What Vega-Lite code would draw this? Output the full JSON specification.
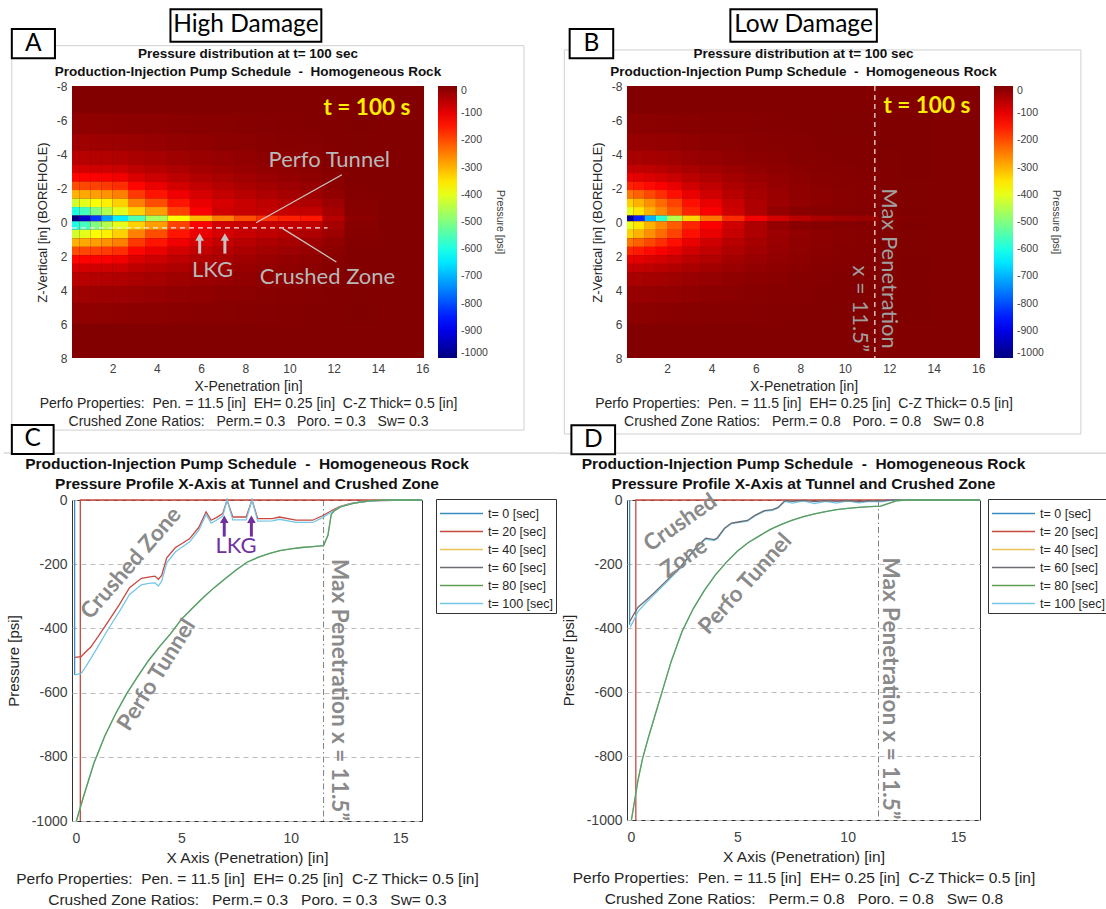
{
"$schema": "https://vega.github.io/schema/vega-lite/v6.json",
"autosize": {"type": "none"},
"padding": {"left": 72, "top": 86, "right": 1034, "bottom": 823},
"background": "white",
"bounds": "flush",
"columns": 2,
"spacing": {"row": 142, "column": 203},
"resolve": {"scale": {"color": "independent", "x": "independent", "y": "independent"}, "legend": {"color": "independent"}, "axis": {"x": "independent", "y": "independent"}},
"config": {
  "font": "Liberation Sans",
  "view": {"stroke": null},
  "axis": {"labelFont": "Liberation Sans", "titleFont": "Liberation Sans", "labelColor": "#404040", "titleColor": "#262626", "titleFontWeight": "normal"},
  "legend": {"labelFont": "Liberation Sans", "titleFont": "Liberation Sans"}
},
"datasets": {
  "rowsH": [
    {"z": -6.4, "z2": -5.2, "b": 9}, {"z": -5.2, "z2": -4.2, "b": 8}, {"z": -4.2, "z2": -3.38, "b": 7},
    {"z": -3.38, "z2": -2.88, "b": 6}, {"z": -2.88, "z2": -2.38, "b": 5}, {"z": -2.38, "z2": -1.88, "b": 4},
    {"z": -1.88, "z2": -1.38, "b": 3}, {"z": -1.38, "z2": -0.88, "b": 2}, {"z": -0.88, "z2": -0.38, "b": 1},
    {"z": -0.38, "z2": -0.04, "b": 0},
    {"z": -0.04, "z2": 0.46, "b": 1}, {"z": 0.46, "z2": 0.96, "b": 2}, {"z": 0.96, "z2": 1.46, "b": 3},
    {"z": 1.46, "z2": 1.96, "b": 4}, {"z": 1.96, "z2": 2.46, "b": 5}, {"z": 2.46, "z2": 2.96, "b": 6},
    {"z": 2.96, "z2": 3.78, "b": 7}, {"z": 3.78, "z2": 4.78, "b": 8}, {"z": 4.78, "z2": 5.98, "b": 9}
  ],
  "colsH": [
    {"k": "c0", "x": 0.17, "x2": 0.5}, {"k": "c1", "x": 0.5, "x2": 1}, {"k": "c2", "x": 1, "x2": 1.5},
    {"k": "c3", "x": 1.5, "x2": 2}, {"k": "c4", "x": 2, "x2": 2.7}, {"k": "c5", "x": 2.7, "x2": 3.5},
    {"k": "c6", "x": 3.5, "x2": 4.5}, {"k": "c7", "x": 4.5, "x2": 5.5}, {"k": "c8", "x": 5.5, "x2": 6.5},
    {"k": "c9", "x": 6.5, "x2": 7.5}, {"k": "c10", "x": 7.5, "x2": 8.5}, {"k": "c11", "x": 8.5, "x2": 9.5},
    {"k": "c12", "x": 9.5, "x2": 10.5}, {"k": "c13", "x": 10.5, "x2": 11.5}, {"k": "c14", "x": 11.5, "x2": 12.5},
    {"k": "c15", "x": 12.5, "x2": 14}
  ],
  "bandsA": [
    {"b":0,"c0":-1000,"c1":-930,"c2":-820,"c3":-720,"c4":-640,"c5":-550,"c6":-460,"c7":-375,"c8":-305,"c9":-250,"c10":-200,"c11":-172,"c12":-156,"c13":-146,"c14":-55,"c15":-12},
    {"b":1,"c0":-600,"c1":-560,"c2":-500,"c3":-450,"c4":-400,"c5":-330,"c6":-280,"c7":-190,"c8":-120,"c9":-80,"c10":-70,"c11":-68,"c12":-68,"c13":-66,"c14":-38,"c15":-8},
    {"b":2,"c0":-420,"c1":-400,"c2":-380,"c3":-360,"c4":-330,"c5":-250,"c6":-200,"c7":-145,"c8":-105,"c9":-85,"c10":-72,"c11":-62,"c12":-52,"c13":-45,"c14":-28,"c15":-6},
    {"b":3,"c0":-300,"c1":-290,"c2":-280,"c3":-268,"c4":-250,"c5":-180,"c6":-145,"c7":-110,"c8":-85,"c9":-68,"c10":-55,"c11":-45,"c12":-38,"c13":-30,"c14":-18,"c15":-4},
    {"b":4,"c0":-200,"c1":-195,"c2":-190,"c3":-182,"c4":-170,"c5":-130,"c6":-105,"c7":-82,"c8":-64,"c9":-52,"c10":-42,"c11":-34,"c12":-28,"c13":-22,"c14":-12,"c15":-3},
    {"b":5,"c0":-130,"c1":-127,"c2":-124,"c3":-120,"c4":-112,"c5":-90,"c6":-75,"c7":-60,"c8":-48,"c9":-40,"c10":-32,"c11":-26,"c12":-20,"c13":-15,"c14":-8,"c15":-2},
    {"b":6,"c0":-85,"c1":-83,"c2":-80,"c3":-78,"c4":-74,"c5":-62,"c6":-53,"c7":-44,"c8":-36,"c9":-30,"c10":-24,"c11":-19,"c12":-15,"c13":-11,"c14":-6,"c15":-2},
    {"b":7,"c0":-55,"c1":-54,"c2":-52,"c3":-50,"c4":-48,"c5":-42,"c6":-37,"c7":-31,"c8":-26,"c9":-22,"c10":-18,"c11":-14,"c12":-11,"c13":-8,"c14":-4,"c15":-1},
    {"b":8,"c0":-32,"c1":-31,"c2":-30,"c3":-29,"c4":-28,"c5":-25,"c6":-22,"c7":-19,"c8":-16,"c9":-13,"c10":-11,"c11":-9,"c12":-7,"c13":-5,"c14":-3,"c15":-1},
    {"b":9,"c0":-16,"c1":-16,"c2":-15,"c3":-15,"c4":-14,"c5":-13,"c6":-12,"c7":-10,"c8":-9,"c9":-8,"c10":-6,"c11":-5,"c12":-4,"c13":-3,"c14":-2,"c15":0}
  ],
  "bandsB": [
    {"b":0,"c0":-960,"c1":-840,"c2":-700,"c3":-580,"c4":-450,"c5":-335,"c6":-240,"c7":-165,"c8":-115,"c9":-82,"c10":-58,"c11":-42,"c12":-32,"c13":-26,"c14":-10,"c15":-2},
    {"b":1,"c0":-400,"c1":-350,"c2":-300,"c3":-260,"c4":-215,"c5":-160,"c6":-122,"c7":-78,"c8":-45,"c9":-20,"c10":-10,"c11":-7,"c12":-5,"c13":-4,"c14":-2,"c15":0},
    {"b":2,"c0":-330,"c1":-300,"c2":-265,"c3":-230,"c4":-190,"c5":-140,"c6":-105,"c7":-70,"c8":-45,"c9":-28,"c10":-18,"c11":-12,"c12":-9,"c13":-7,"c14":-3,"c15":-1},
    {"b":3,"c0":-240,"c1":-220,"c2":-195,"c3":-170,"c4":-140,"c5":-105,"c6":-80,"c7":-56,"c8":-38,"c9":-26,"c10":-17,"c11":-12,"c12":-8,"c13":-6,"c14":-3,"c15":-1},
    {"b":4,"c0":-160,"c1":-148,"c2":-135,"c3":-120,"c4":-102,"c5":-80,"c6":-63,"c7":-46,"c8":-33,"c9":-23,"c10":-15,"c11":-10,"c12":-7,"c13":-5,"c14":-2,"c15":-1},
    {"b":5,"c0":-105,"c1":-98,"c2":-90,"c3":-82,"c4":-72,"c5":-58,"c6":-47,"c7":-36,"c8":-26,"c9":-18,"c10":-12,"c11":-8,"c12":-6,"c13":-4,"c14":-2,"c15":0},
    {"b":6,"c0":-68,"c1":-64,"c2":-60,"c3":-55,"c4":-48,"c5":-40,"c6":-33,"c7":-26,"c8":-19,"c9":-14,"c10":-10,"c11":-7,"c12":-5,"c13":-3,"c14":-1,"c15":0},
    {"b":7,"c0":-42,"c1":-40,"c2":-38,"c3":-35,"c4":-31,"c5":-26,"c6":-22,"c7":-17,"c8":-13,"c9":-10,"c10":-7,"c11":-5,"c12":-3,"c13":-2,"c14":-1,"c15":0},
    {"b":8,"c0":-24,"c1":-23,"c2":-22,"c3":-20,"c4":-18,"c5":-16,"c6":-13,"c7":-11,"c8":-9,"c9":-7,"c10":-5,"c11":-3,"c12":-2,"c13":-1,"c14":0,"c15":0},
    {"b":9,"c0":-12,"c1":-12,"c2":-11,"c3":-10,"c4":-9,"c5":-8,"c6":-7,"c7":-6,"c8":-5,"c9":-4,"c10":-3,"c11":-2,"c12":-1,"c13":-1,"c14":0,"c15":0}
  ],
  "linesC": [
    {"t": "t= 0 [sec]", "g": "v", "x": [0.12, 0.12], "p": [0, -545]},
    {"t": "t= 20 [sec]", "g": "r", "x": [0.38, 0.38, 16], "p": [-1000, 0, 0]},
    {"t": "t= 20 [sec]", "g": "cz", "x": [0.14,0.42,0.6,0.85,1.2,1.63,2.17,2.63,3.17,3.5,3.79,3.95,4.1,4.33,4.72,4.92,5.37,5.8,6.13,6.36,6.6,6.89,7.09,7.35,7.96,8.23,8.49,9.17,9.48,10.24,11.0,11.45,11.9,12.2,12.7,13.3,14,15.4,16], "p": [-490,-488,-475,-459,-425,-381,-325,-273,-244,-240,-237,-247,-235,-180,-149,-140,-121,-85,-37,-63,-55,-42,0,-53,-53,0,-58,-58,-53,-63,-63,-49,-32,-21,-11,-5,-2,0,0]},
    {"t": "t= 100 [sec]", "g": "cz", "x": [0.14,0.42,0.6,0.85,1.2,1.63,2.17,2.63,3.17,3.5,3.79,3.95,4.1,4.33,4.72,4.92,5.37,5.8,6.13,6.36,6.6,6.89,7.09,7.35,7.96,8.23,8.49,9.17,9.48,10.24,11.0,11.45,11.9,12.2,12.7,13.3,14,15.4,16], "p": [-545,-540,-522,-495,-455,-405,-347,-294,-264,-260,-258,-268,-253,-196,-162,-152,-131,-94,-45,-72,-63,-50,0,-62,-62,0,-66,-65,-60,-70,-70,-55,-36,-23,-12,-5,-2,0,0]},
    {"t": "t= 100 [sec]", "g": "tu", "x": [0.2,0.5,1,1.5,2,2.5,3,3.5,4,4.5,5,5.5,6,6.5,7,7.5,8,8.5,9,9.5,10,10.5,11,11.5,11.7,11.85,12,12.3,12.9,13.7,14.6,16], "p": [-1000,-930,-820,-735,-665,-603,-550,-500,-457,-417,-372,-337,-304,-273,-245,-218,-194,-179,-167,-158,-152,-148,-145,-142,-110,-45,-33,-21,-10,-2,0,0]},
    {"t": "t= 80 [sec]", "g": "tu", "x": [0.2,0.5,1,1.5,2,2.5,3,3.5,4,4.5,5,5.5,6,6.5,7,7.5,8,8.5,9,9.5,10,10.5,11,11.5,11.7,11.85,12,12.3,12.9,13.7,14.6,16], "p": [-1000,-930,-820,-735,-665,-603,-550,-500,-457,-417,-372,-337,-304,-273,-245,-218,-194,-179,-167,-158,-152,-148,-145,-142,-110,-45,-33,-21,-10,-2,0,0]}
  ],
  "linesD": [
    {"t": "t= 0 [sec]", "g": "v", "x": [0.12, 0.12], "p": [0, -390]},
    {"t": "t= 20 [sec]", "g": "r", "x": [0.4, 0.4, 16], "p": [-1000, 0, 0]},
    {"t": "t= 100 [sec]", "g": "cz", "x": [0.14,0.35,0.5,0.85,1.2,1.63,2.0,2.4,2.8,3.18,3.57,3.95,4.1,4.42,4.73,5.1,5.46,5.8,6.23,6.6,6.85,7.16,7.5,8,8.5,9,9.5,10,10.5,11,11.5,12,16], "p": [-398,-370,-348,-322,-298,-268,-242,-214,-179,-147,-122,-127,-120,-90,-74,-70,-66,-50,-35,-32,-25,-4,-10,-3,-11,-4,-10,-3,-9,-4,-6,0,0]},
    {"t": "t= 60 [sec]", "g": "cz", "x": [0.14,0.35,0.5,0.85,1.2,1.63,2.0,2.4,2.8,3.18,3.57,3.95,4.1,4.42,4.73,5.1,5.46,5.8,6.23,6.6,6.85,7.16,7.5,8,8.5,9,9.5,10,10.5,11,11.5,12,16], "p": [-378,-352,-335,-314,-292,-263,-238,-211,-176,-144,-119,-124,-118,-88,-72,-68,-64,-48,-33,-30,-23,-2,-4,-1,-5,-2,-4,-2,-5,-3,-3,0,0]},
    {"t": "t= 100 [sec]", "g": "tu", "x": [0.2,0.5,0.7,1,1.5,2,2.5,3,3.5,4,4.5,5,5.5,6,6.5,7,7.5,8,8.5,9,9.5,10,10.5,11,11.5,11.8,12.2,12.6,16], "p": [-1000,-875,-810,-735,-620,-505,-410,-340,-283,-235,-195,-160,-133,-112,-92,-76,-63,-52,-43,-36,-30,-26,-23,-21,-19,-12,-3,0,0]},
    {"t": "t= 80 [sec]", "g": "tu", "x": [0.2,0.5,0.7,1,1.5,2,2.5,3,3.5,4,4.5,5,5.5,6,6.5,7,7.5,8,8.5,9,9.5,10,10.5,11,11.5,11.8,12.2,12.6,16], "p": [-1000,-875,-810,-735,-620,-505,-410,-340,-283,-235,-195,-160,-133,-112,-92,-76,-63,-52,-43,-36,-30,-26,-23,-21,-19,-12,-3,0,0]}
  ]
},
"concat": [
  {
    "width": 352, "height": 272,
    "encoding": {
      "x": {"field": "x", "type": "quantitative", "scale": {"domain": [0.17, 16.08], "nice": false, "zero": false},
        "axis": {"values": [2,4,6,8,10,12,14,16], "ticks": false, "domain": false, "grid": false, "labelFontSize": 12, "labelPadding": 5, "titleFontSize": 14, "titleLineHeight": 17.5, "titlePadding": 5,
          "title": ["X-Penetration [in]", "Perfo Properties:\u00a0 Pen. = 11.5 [in]\u00a0 EH= 0.25 [in]\u00a0 C-Z Thick= 0.5 [in]", "Crushed Zone Ratios:\u00a0 \u00a0Perm.= 0.3\u00a0 \u00a0Poro. = 0.3\u00a0 \u00a0Sw= 0.3"]}},
      "y": {"field": "z", "type": "quantitative", "scale": {"domain": [-8, 8], "reverse": true, "nice": false, "zero": false},
        "axis": {"values": [-8,-6,-4,-2,0,2,4,6,8], "labelExpr": "'' + datum.value", "ticks": false, "domain": false, "grid": false, "labelFontSize": 12, "labelPadding": 5, "title": "Z-Vertical [in] (BOREHOLE)", "titleFontSize": 13, "titlePadding": 7}}
    },
    "layer": [
      {"data": {"values": [{"x": -2.55, "x2": 20.6, "z": -10.37, "z2": 12.24}]}, "mark": {"type": "rect", "fillOpacity": 0, "stroke": "#d0d0d0", "strokeWidth": 1}, "encoding": {"x2": {"field": "x2"}, "y2": {"field": "z2"}}},
      {"data": {"values": [{"x": 0.17, "x2": 16.08, "z": -8, "z2": 8}]}, "mark": {"type": "rect", "color": "#830000"}, "encoding": {"x2": {"field": "x2"}, "y2": {"field": "z2"}}},
      {"data": {"name": "rowsH"},
       "transform": [
         {"lookup": "b", "from": {"data": {"name": "bandsA"}, "key": "b", "fields": ["c0","c1","c2","c3","c4","c5","c6","c7","c8","c9","c10","c11","c12","c13","c14","c15"]}},
         {"fold": ["c0","c1","c2","c3","c4","c5","c6","c7","c8","c9","c10","c11","c12","c13","c14","c15"], "as": ["k", "p"]},
         {"lookup": "k", "from": {"data": {"name": "colsH"}, "key": "k", "fields": ["x", "x2"]}}
       ],
       "mark": {"type": "rect", "clip": true},
       "encoding": {"x2": {"field": "x2"}, "y2": {"field": "z2"},
         "color": {"field": "p", "type": "quantitative",
           "scale": {"domain": [-1000, -875, -625, -375, -125, 0], "range": ["#000080", "#0000ff", "#00ffff", "#ffff00", "#ff0000", "#800000"], "interpolate": "rgb"},
           "legend": {"orient": "none", "legendX": 366, "legendY": 0, "direction": "vertical", "gradientLength": 272, "gradientThickness": 19, "values": [0,-100,-200,-300,-400,-500,-600,-700,-800,-900,-1000], "labelExpr": "'' + datum.value", "labelFontSize": 10.5, "labelColor": "#404040", "labelOffset": 4, "title": "Pressure [psi]", "titleOrient": "right", "titleAnchor": "middle", "titleAngle": 270, "titleFontSize": 10.5, "titleFontWeight": "normal", "titleColor": "#404040", "titlePadding": 7}}}},
      {"data": {"values": [{"x": 0.17, "z": 0.34, "x2": 11.72, "z2": 0.34}]}, "mark": {"type": "rule", "color": "#e8e8e8", "strokeWidth": 1.2, "strokeDash": [5, 4]}, "encoding": {"x2": {"field": "x2"}, "y2": {"field": "z2"}}},
      {"data": {"values": [{"x": 12.37, "z": -2.78, "x2": 8.49, "z2": 0.04}, {"x": 9.7, "z": 0.39, "x2": 12.12, "z2": 2.35}]}, "mark": {"type": "rule", "color": "#c8c8c8", "strokeWidth": 1.2}, "encoding": {"x2": {"field": "x2"}, "y2": {"field": "z2"}}},
      {"data": {"values": [{"x": 5.94, "z": 1.86, "x2": 5.94, "z2": 1.0}, {"x": 7.08, "z": 1.86, "x2": 7.08, "z2": 1.0}]}, "mark": {"type": "rule", "color": "#c4c4c4", "strokeWidth": 3}, "encoding": {"x2": {"field": "x2"}, "y2": {"field": "z2"}}},
      {"data": {"values": [{"x": 5.94, "z": 0.88}, {"x": 7.08, "z": 0.88}]}, "mark": {"type": "point", "shape": "triangle-up", "filled": true, "size": 75, "color": "#c4c4c4", "opacity": 1}},
      {"data": {"values": [{"x": 11.8, "z": -3.63, "label": "Perfo Tunnel"}, {"x": 11.72, "z": 3.24, "label": "Crushed Zone"}, {"x": 6.52, "z": 2.84, "label": "LKG"}]}, "mark": {"type": "text", "font": "Lato", "fontSize": 22, "color": "#b8b8b8", "align": "center", "baseline": "middle"}, "encoding": {"text": {"field": "label"}}},
      {"data": {"values": [{"x": 13.5, "z": -6.7, "label": "t = 100 s"}]}, "mark": {"type": "text", "font": "Lato", "fontSize": 22.5, "fontWeight": "bold", "color": "#ffee00", "align": "center", "baseline": "middle"}, "encoding": {"text": {"field": "label"}}},
      {"data": {"values": [{"x": 8.125, "z": -9.9, "label": "Pressure distribution at t= 100 sec"}, {"x": 8.125, "z": -8.84, "label": "Production-Injection Pump Schedule\u00a0 -\u00a0 Homogeneous Rock"}]}, "mark": {"type": "text", "font": "Liberation Sans", "fontSize": 13.5, "fontWeight": "bold", "color": "#111111", "align": "center", "baseline": "middle"}, "encoding": {"text": {"field": "label"}}},
      {"data": {"values": [{"x": 4.62, "x2": 11.44, "z": -12.51, "z2": -10.61}, {"x": -2.55, "x2": -0.6, "z": -11.35, "z2": -9.63}]}, "mark": {"type": "rect", "fill": "white", "stroke": "black", "strokeWidth": 2}, "encoding": {"x2": {"field": "x2"}, "y2": {"field": "z2"}}},
      {"data": {"values": [{"x": 8.03, "z": -11.56, "label": "High Damage"}, {"x": -1.58, "z": -10.5, "label": "A"}]}, "mark": {"type": "text", "font": "Lato", "fontSize": 24.5, "color": "black", "align": "center", "baseline": "middle"}, "encoding": {"text": {"field": "label"}}}
    ]
  },
  {
    "width": 353, "height": 272,
    "encoding": {
      "x": {"field": "x", "type": "quantitative", "scale": {"domain": [0.2, 16.08], "nice": false, "zero": false},
        "axis": {"values": [2,4,6,8,10,12,14,16], "ticks": false, "domain": false, "grid": false, "labelFontSize": 12, "labelPadding": 5, "titleFontSize": 14, "titleLineHeight": 17.5, "titlePadding": 5,
          "title": ["X-Penetration [in]", "Perfo Properties:\u00a0 Pen. = 11.5 [in]\u00a0 EH= 0.25 [in]\u00a0 C-Z Thick= 0.5 [in]", "Crushed Zone Ratios:\u00a0 \u00a0Perm.= 0.8\u00a0 \u00a0Poro. = 0.8\u00a0 \u00a0Sw= 0.8"]}},
      "y": {"field": "z", "type": "quantitative", "scale": {"domain": [-8, 8], "reverse": true, "nice": false, "zero": false},
        "axis": {"values": [-8,-6,-4,-2,0,2,4,6,8], "labelExpr": "'' + datum.value", "ticks": false, "domain": false, "grid": false, "labelFontSize": 12, "labelPadding": 5, "title": "Z-Vertical [in] (BOREHOLE)", "titleFontSize": 13, "titlePadding": 7}}
    },
    "layer": [
      {"data": {"values": [{"x": -2.62, "x2": 20.62, "z": -10.12, "z2": 12.47}]}, "mark": {"type": "rect", "fillOpacity": 0, "stroke": "#d0d0d0", "strokeWidth": 1}, "encoding": {"x2": {"field": "x2"}, "y2": {"field": "z2"}}},
      {"data": {"values": [{"x": 0.17, "x2": 16.08, "z": -8, "z2": 8}]}, "mark": {"type": "rect", "color": "#830000", "clip": true}, "encoding": {"x2": {"field": "x2"}, "y2": {"field": "z2"}}},
      {"data": {"name": "rowsH"},
       "transform": [
         {"lookup": "b", "from": {"data": {"name": "bandsB"}, "key": "b", "fields": ["c0","c1","c2","c3","c4","c5","c6","c7","c8","c9","c10","c11","c12","c13","c14","c15"]}},
         {"fold": ["c0","c1","c2","c3","c4","c5","c6","c7","c8","c9","c10","c11","c12","c13","c14","c15"], "as": ["k", "p"]},
         {"lookup": "k", "from": {"data": {"name": "colsH"}, "key": "k", "fields": ["x", "x2"]}}
       ],
       "mark": {"type": "rect", "clip": true},
       "encoding": {"x2": {"field": "x2"}, "y2": {"field": "z2"},
         "color": {"field": "p", "type": "quantitative",
           "scale": {"domain": [-1000, -875, -625, -375, -125, 0], "range": ["#000080", "#0000ff", "#00ffff", "#ffff00", "#ff0000", "#800000"], "interpolate": "rgb"},
           "legend": {"orient": "none", "legendX": 367, "legendY": 0, "direction": "vertical", "gradientLength": 272, "gradientThickness": 19, "values": [0,-100,-200,-300,-400,-500,-600,-700,-800,-900,-1000], "labelExpr": "'' + datum.value", "labelFontSize": 10.5, "labelColor": "#404040", "labelOffset": 4, "title": "Pressure [psi]", "titleOrient": "right", "titleAnchor": "middle", "titleAngle": 270, "titleFontSize": 10.5, "titleFontWeight": "normal", "titleColor": "#404040", "titlePadding": 7}}}},
      {"data": {"values": [{"x": 11.35, "z": -8, "x2": 11.35, "z2": 8}]}, "mark": {"type": "rule", "color": "#f0f0f0", "strokeWidth": 1.2, "strokeDash": [5, 4]}, "encoding": {"x2": {"field": "x2"}, "y2": {"field": "z2"}}},
      {"data": {"values": [{"x": 11.99, "z": 2.74, "label": "Max Penetration"}, {"x": 10.69, "z": 5.1, "label": "x = 11.5\u201d"}]}, "mark": {"type": "text", "font": "Lato", "fontSize": 22, "angle": 90, "color": "#a0a0a0", "align": "center", "baseline": "middle"}, "encoding": {"text": {"field": "label"}}},
      {"data": {"values": [{"x": 13.69, "z": -6.84, "label": "t = 100 s"}]}, "mark": {"type": "text", "font": "Lato", "fontSize": 22.5, "fontWeight": "bold", "color": "#ffee00", "align": "center", "baseline": "middle"}, "encoding": {"text": {"field": "label"}}},
      {"data": {"values": [{"x": 8.14, "z": -9.9, "label": "Pressure distribution at t= 100 sec"}, {"x": 8.14, "z": -8.84, "label": "Production-Injection Pump Schedule\u00a0 -\u00a0 Homogeneous Rock"}]}, "mark": {"type": "text", "font": "Liberation Sans", "fontSize": 13.5, "fontWeight": "bold", "color": "#111111", "align": "center", "baseline": "middle"}, "encoding": {"text": {"field": "label"}}},
      {"data": {"values": [{"x": 4.85, "x2": 11.44, "z": -12.51, "z2": -10.61}, {"x": -2.38, "x2": -0.42, "z": -11.35, "z2": -9.63}]}, "mark": {"type": "rect", "fill": "white", "stroke": "black", "strokeWidth": 2}, "encoding": {"x2": {"field": "x2"}, "y2": {"field": "z2"}}},
      {"data": {"values": [{"x": 8.14, "z": -11.56, "label": "Low Damage"}, {"x": -1.4, "z": -10.5, "label": "B"}]}, "mark": {"type": "text", "font": "Lato", "fontSize": 24.5, "color": "black", "align": "center", "baseline": "middle"}, "encoding": {"text": {"field": "label"}}}
    ]
  },
  {
    "width": 350, "height": 321,
    "view": {"stroke": "#333333", "strokeWidth": 1},
    "encoding": {
      "x": {"field": "x", "type": "quantitative", "scale": {"domain": [0, 16], "nice": false, "zero": false},
        "axis": {"values": [0, 5, 10, 15], "ticks": false, "domain": false, "grid": false, "labelFontSize": 14, "labelPadding": 10, "titleFontSize": 15.5, "titleLineHeight": 21, "titlePadding": 5,
          "title": ["X Axis (Penetration) [in]", "Perfo Properties:\u00a0 Pen. = 11.5 [in]\u00a0 EH= 0.25 [in]\u00a0 C-Z Thick= 0.5 [in]", "Crushed Zone Ratios:\u00a0 \u00a0Perm.= 0.3\u00a0 \u00a0Poro. = 0.3\u00a0 \u00a0Sw= 0.3"]}},
      "y": {"field": "p", "type": "quantitative", "scale": {"domain": [-1000, 0], "nice": false, "zero": false},
        "axis": {"values": [-1000, -800, -600, -400, -200, 0], "labelExpr": "'' + datum.value", "ticks": false, "domain": false, "grid": true, "gridDash": [5, 4], "gridColor": "#bdbdbd", "labelFontSize": 14, "labelPadding": 5, "title": "Pressure [psi]", "titleFontSize": 15, "titlePadding": 10}}
    },
    "layer": [
      {"data": {"values": [{"x": -3.13, "p": 146.4, "x2": 22.17, "p2": 146.4}]}, "mark": {"type": "rule", "color": "#c8c8c8", "strokeWidth": 1}, "encoding": {"x2": {"field": "x2"}, "y2": {"field": "p2"}}},
      {"data": {"values": [{"x": 11.5, "p": 0, "x2": 11.5, "p2": -1000}]}, "mark": {"type": "rule", "color": "#7f7f7f", "strokeWidth": 1, "strokeDash": [6, 3, 1.5, 3]}, "encoding": {"x2": {"field": "x2"}, "y2": {"field": "p2"}}},
      {"data": {"name": "linesC"}, "transform": [{"flatten": ["x", "p"]}],
       "mark": {"type": "line", "strokeWidth": 1.3},
       "encoding": {"detail": {"field": "g"},
         "color": {"field": "t", "type": "nominal",
           "scale": {"domain": ["t= 0 [sec]", "t= 20 [sec]", "t= 40 [sec]", "t= 60 [sec]", "t= 80 [sec]", "t= 100 [sec]"], "range": ["#3a8cc0", "#c8483f", "#e8c45a", "#6e6a72", "#5f9e55", "#74c6e6"]},
           "legend": {"orient": "none", "legendX": 364, "legendY": -1, "title": null, "symbolType": "M-2,0L2,0", "symbolSize": 462, "symbolOffset": 11, "symbolStrokeWidth": 1.5, "labelFontSize": 12.5, "labelColor": "#262626", "strokeColor": "#333333", "fillColor": "white", "padding": 3, "labelOffset": 15, "rowPadding": 0}}}},
      {"data": {"values": [{"x": 2.7, "p": -197, "label": "Crushed Zone"}]}, "mark": {"type": "text", "font": "Lato", "fontSize": 22.5, "fontWeight": "bold", "angle": -49, "color": "#8a8a8a", "align": "center", "baseline": "middle"}, "encoding": {"text": {"field": "label"}}},
      {"data": {"values": [{"x": 3.87, "p": -545, "label": "Perfo Tunnel"}]}, "mark": {"type": "text", "font": "Lato", "fontSize": 22.5, "fontWeight": "bold", "angle": -58, "color": "#8a8a8a", "align": "center", "baseline": "middle"}, "encoding": {"text": {"field": "label"}}},
      {"data": {"values": [{"x": 12.22, "p": -592, "label": "Max Penetration x = 11.5\u201d"}]}, "mark": {"type": "text", "font": "Lato", "fontSize": 22.5, "fontWeight": "bold", "angle": 90, "color": "#8a8a8a", "align": "center", "baseline": "middle"}, "encoding": {"text": {"field": "label"}}},
      {"data": {"values": [{"x": 6.96, "p": -114, "x2": 6.96, "p2": -68}, {"x": 8.2, "p": -114, "x2": 8.2, "p2": -68}]}, "mark": {"type": "rule", "color": "#7030a0", "strokeWidth": 3}, "encoding": {"x2": {"field": "x2"}, "y2": {"field": "p2"}}},
      {"data": {"values": [{"x": 6.96, "p": -60}, {"x": 8.2, "p": -60}]}, "mark": {"type": "point", "shape": "triangle-up", "filled": true, "size": 75, "color": "#7030a0", "opacity": 1}},
      {"data": {"values": [{"x": 7.5, "p": -143, "label": "LKG"}]}, "mark": {"type": "text", "font": "Lato", "fontSize": 22, "color": "#7030a0", "align": "center", "baseline": "middle"}, "encoding": {"text": {"field": "label"}}},
      {"data": {"values": [{"x": 8, "p": 112, "label": "Production-Injection Pump Schedule\u00a0 -\u00a0 Homogeneous Rock"}, {"x": 8, "p": 50, "label": "Pressure Profile X-Axis at Tunnel and Crushed Zone"}]}, "mark": {"type": "text", "font": "Liberation Sans", "fontSize": 15.5, "fontWeight": "bold", "color": "#111111", "align": "center", "baseline": "middle"}, "encoding": {"text": {"field": "label"}}},
      {"data": {"values": [{"x": -2.75, "x2": -0.84, "p": 233.6, "p2": 143.3}]}, "mark": {"type": "rect", "fill": "white", "stroke": "black", "strokeWidth": 2}, "encoding": {"x2": {"field": "x2"}, "y2": {"field": "p2"}}},
      {"data": {"values": [{"x": -1.8, "p": 189, "label": "C"}]}, "mark": {"type": "text", "font": "Lato", "fontSize": 24.5, "color": "black", "align": "center", "baseline": "middle"}, "encoding": {"text": {"field": "label"}}}
    ]
  },
  {
    "width": 353, "height": 320,
    "view": {"stroke": "#333333", "strokeWidth": 1},
    "encoding": {
      "x": {"field": "x", "type": "quantitative", "scale": {"domain": [0, 16], "nice": false, "zero": false},
        "axis": {"values": [0, 5, 10, 15], "ticks": false, "domain": false, "grid": false, "labelFontSize": 14, "labelPadding": 10, "titleFontSize": 15.5, "titleLineHeight": 21, "titlePadding": 5,
          "title": ["X Axis (Penetration) [in]", "Perfo Properties:\u00a0 Pen. = 11.5 [in]\u00a0 EH= 0.25 [in]\u00a0 C-Z Thick= 0.5 [in]", "Crushed Zone Ratios:\u00a0 \u00a0Perm.= 0.8\u00a0 \u00a0Poro. = 0.8\u00a0 \u00a0Sw= 0.8"]}},
      "y": {"field": "p", "type": "quantitative", "scale": {"domain": [-1000, 0], "nice": false, "zero": false},
        "axis": {"values": [-1000, -800, -600, -400, -200, 0], "labelExpr": "'' + datum.value", "ticks": false, "domain": false, "grid": true, "gridDash": [5, 4], "gridColor": "#bdbdbd", "labelFontSize": 14, "labelPadding": 5, "title": "Pressure [psi]", "titleFontSize": 15, "titlePadding": 10}}
    },
    "layer": [
      {"data": {"values": [{"x": -3.17, "p": 146.4, "x2": 21.72, "p2": 146.4}]}, "mark": {"type": "rule", "color": "#c8c8c8", "strokeWidth": 1}, "encoding": {"x2": {"field": "x2"}, "y2": {"field": "p2"}}},
      {"data": {"values": [{"x": 11.4, "p": 0, "x2": 11.4, "p2": -1000}]}, "mark": {"type": "rule", "color": "#7f7f7f", "strokeWidth": 1, "strokeDash": [6, 3, 1.5, 3]}, "encoding": {"x2": {"field": "x2"}, "y2": {"field": "p2"}}},
      {"data": {"name": "linesD"}, "transform": [{"flatten": ["x", "p"]}],
       "mark": {"type": "line", "strokeWidth": 1.3},
       "encoding": {"detail": {"field": "g"},
         "color": {"field": "t", "type": "nominal",
           "scale": {"domain": ["t= 0 [sec]", "t= 20 [sec]", "t= 40 [sec]", "t= 60 [sec]", "t= 80 [sec]", "t= 100 [sec]"], "range": ["#3a8cc0", "#c8483f", "#e8c45a", "#6e6a72", "#5f9e55", "#74c6e6"]},
           "legend": {"orient": "none", "legendX": 361, "legendY": -1, "title": null, "symbolType": "M-2,0L2,0", "symbolSize": 462, "symbolOffset": 11, "symbolStrokeWidth": 1.5, "labelFontSize": 12.5, "labelColor": "#262626", "strokeColor": "#333333", "fillColor": "white", "padding": 3, "labelOffset": 15, "rowPadding": 0}}}},
      {"data": {"values": [{"x": 2.42, "p": -71, "label": "Crushed"}, {"x": 2.58, "p": -182, "label": "Zone"}]}, "mark": {"type": "text", "font": "Lato", "fontSize": 22.5, "fontWeight": "bold", "angle": -35, "color": "#8a8a8a", "align": "center", "baseline": "middle"}, "encoding": {"text": {"field": "label"}}},
      {"data": {"values": [{"x": 5.36, "p": -262, "label": "Perfo Tunnel"}]}, "mark": {"type": "text", "font": "Lato", "fontSize": 22.5, "fontWeight": "bold", "angle": -48, "color": "#8a8a8a", "align": "center", "baseline": "middle"}, "encoding": {"text": {"field": "label"}}},
      {"data": {"values": [{"x": 11.93, "p": -589, "label": "Max Penetration x = 11.5\u201d"}]}, "mark": {"type": "text", "font": "Lato", "fontSize": 22.5, "fontWeight": "bold", "angle": 90, "color": "#8a8a8a", "align": "center", "baseline": "middle"}, "encoding": {"text": {"field": "label"}}},
      {"data": {"values": [{"x": 8, "p": 112, "label": "Production-Injection Pump Schedule\u00a0 -\u00a0 Homogeneous Rock"}, {"x": 8, "p": 50, "label": "Pressure Profile X-Axis at Tunnel and Crushed Zone"}]}, "mark": {"type": "text", "font": "Liberation Sans", "fontSize": 15.5, "fontWeight": "bold", "color": "#111111", "align": "center", "baseline": "middle"}, "encoding": {"text": {"field": "label"}}},
      {"data": {"values": [{"x": -2.52, "x2": -0.54, "p": 233.6, "p2": 143.3}]}, "mark": {"type": "rect", "fill": "white", "stroke": "black", "strokeWidth": 2}, "encoding": {"x2": {"field": "x2"}, "y2": {"field": "p2"}}},
      {"data": {"values": [{"x": -1.53, "p": 189, "label": "D"}]}, "mark": {"type": "text", "font": "Lato", "fontSize": 24.5, "color": "black", "align": "center", "baseline": "middle"}, "encoding": {"text": {"field": "label"}}}
    ]
  }
]
}
